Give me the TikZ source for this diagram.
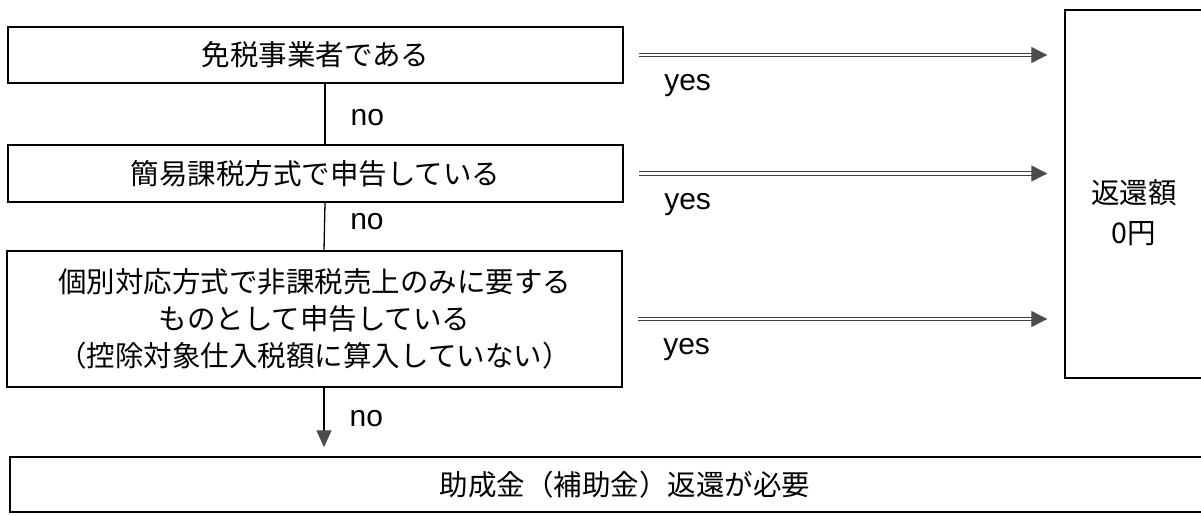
\documentclass[tikz,border=0pt]{standalone}
\usepackage{fontspec}
\setmainfont{Noto Sans CJK JP}
\newfontfamily\latinfont{Liberation Sans}
\usetikzlibrary{arrows.meta,positioning}

\begin{document}
\begin{tikzpicture}[x=1pt,y=-1pt,
  every node/.style={inner sep=0pt,font=\fontsize{28.5}{37}\selectfont},
  stepbox/.style={draw,line width=1.4pt,align=center},
  answer/.style={font=\latinfont\fontsize{30}{36}\selectfont},
  yesarrow/.style={draw=black!75,line width=1.2pt,double,double distance=2.2pt,
    -{Triangle[length=16pt,width=16pt,fill=black!70,color=black!70]}},
  noarrow/.style={line width=1.3pt,
    -{Triangle[length=17pt,width=15pt,fill=black!70,color=black!70]}}]
\useasboundingbox (0,0) rectangle (1201,515);
\clip (0,0) rectangle (1201,515);
% question boxes
\node[stepbox,minimum width=615pt,minimum height=56pt] (exempt) at (315.5,55) {免税事業者である};
\node[stepbox,minimum width=615pt,minimum height=57pt] (simple) at (315.5,173.5) {簡易課税方式で申告している};
\node[stepbox,minimum width=615pt,minimum height=136pt] (separate) at (314.5,319)
  {個別対応方式で非課税売上のみに要する\\ものとして申告している\\（控除対象仕入税額に算入していない）};
% result boxes
\node[stepbox,minimum width=138pt,minimum height=368pt,
  label={[align=center,font=\fontsize{28.5}{40}\selectfont,yshift=-19pt]center:返還額\\0円}] (refund) at (1134,194) {};
\node[stepbox,minimum width=1230pt,minimum height=55pt] (repay) at (625,484.5) {助成金（補助金）返還が必要};
% no branches
\path[line width=1.3pt] ([xshift=9.5pt]exempt.south) edge node[answer,pos=0.56,anchor=west,xshift=25pt] {no} ([xshift=9.5pt]simple.north)
  ([xshift=9.5pt]simple.south) edge node[answer,pos=0.4,anchor=west,xshift=25pt] {no} ([xshift=9.5pt]separate.north);
\draw[noarrow] ([xshift=9.5pt]separate.south) -- node[answer,pos=0.51,anchor=west,xshift=25pt] {no} ([xshift=9.5pt,yshift=9pt]repay.north -| separate.south);
% yes branches
\foreach \src in {exempt,simple,separate}
  \draw[yesarrow] ([xshift=15pt]\src.east) -- node[answer,pos=0,anchor=west,xshift=25pt,yshift=-31pt] {yes} ([xshift=-17pt]refund.west |- \src.east);
\end{tikzpicture}
\end{document}
